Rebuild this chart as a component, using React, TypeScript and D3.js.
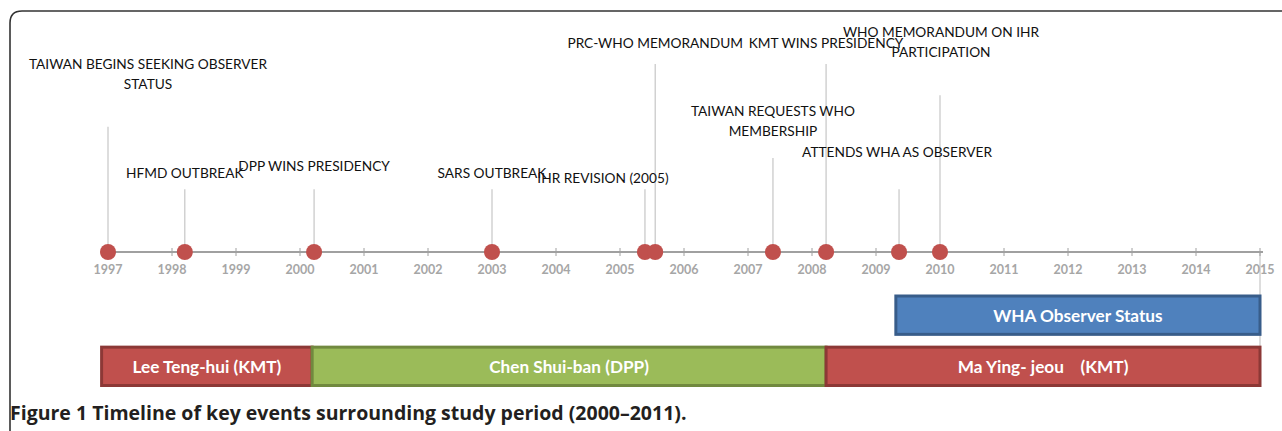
import React from 'react';
import * as d3 from 'd3';

const width = 1282;
const height = 431;

// axis years
const tickYears = d3.range(1997, 2016);

// events (fractional year), label lines and stem level
const eventDates = [1997.0, 1998.2, 2000.22, 2003.0, 2005.39, 2005.55, 2007.39, 2008.22, 2009.36, 2010.0];
const eventLabels = [
  ['TAIWAN BEGINS SEEKING OBSERVER', 'STATUS'],
  ['HFMD OUTBREAK'],
  ['DPP WINS PRESIDENCY'],
  ['SARS OUTBREAK'],
  ['IHR REVISION (2005)'],
  ['PRC-WHO MEMORANDUM'],
  ['TAIWAN REQUESTS WHO', 'MEMBERSHIP'],
  ['KMT WINS PRESIDENCY'],
  ['ATTENDS WHA AS OBSERVER'],
  ['WHO MEMORANDUM ON IHR', 'PARTICIPATION'],
];
const eventLevels = [2, 1, 1, 1, 1, 3, 1.5, 3, 1, 2.5];

// presidencies
const termNames = ['Lee Teng-hui (KMT)', 'Chen Shui-ban (DPP)', 'Ma Ying- jeou    (KMT)'];
const termStart = [1996.9, 2000.19, 2008.22];
const termEnd = [2000.19, 2008.22, 2015];

// observer status span
const statusName = 'WHA Observer Status';
const statusSpan = [2009.31, 2015];

const caption = 'Timeline of key events surrounding study period (2000\u20132011).';

// label nudges [dx, dy of last line from stem top]
const labelNudge = [[40, -44], [0, -17], [0, -24], [0, -17], [-42, -12], [0, -22], [0, -28], [0, -22], [-2, -38], [1, -44]];

const RED = '#C0504D';
const RED_DARK = '#8C3836';
const GREEN = '#9BBB59';
const GREEN_DARK = '#71893F';
const BLUE = '#4F81BD';
const BLUE_DARK = '#385D8A';

export default function App() {
  const axisY = 252;
  const x = d3.scaleLinear().domain([1997, 2015]).range([108, 1260]);
  const y = d3.scaleLinear().domain([0, 3]).range([axisY, 64]);
  const rows = d3.scaleBand<string>().domain(['status', 'term']).range([296, 385.5]).paddingInner(0.25);

  const labelFont = 'Lato, "Open Sans", sans-serif';
  const termColors = [[RED, RED_DARK], [GREEN, GREEN_DARK], [RED, RED_DARK]];

  return (
    <svg width={width} height={height} style={{ position: 'absolute', left: 0, top: 0, background: '#fff' }}>
      {/* frame */}
      <path d="M10,440 L10,23 Q10,11 22,11 L1290,11" fill="none" stroke="#333" strokeWidth={1.6} />

      {/* stems */}
      {eventDates.map((d, i) => (
        <line key={'s' + i} x1={x(d)} x2={x(d)} y1={axisY} y2={y(eventLevels[i])} stroke="#C6C6C6" strokeWidth={1.2} />
      ))}
      <line x1={x(2015)} x2={x(2015)} y1={axisY} y2={rows('term')} stroke="#C6C6C6" strokeWidth={1.2} />

      {/* axis */}
      <line x1={x(1996.9)} x2={x(2015) + 3} y1={axisY} y2={axisY} stroke="#A0A0A0" strokeWidth={2} />
      {tickYears.map((t) => (
        <g key={t} transform={`translate(${x(t)},${axisY})`}>
          <line y1={-4} y2={4} stroke="#A0A0A0" strokeWidth={1} />
          <text y={22} textAnchor="middle" fontFamily={labelFont} fontWeight={700} fontSize={12.5} fill="#A6A6A6">{t}</text>
        </g>
      ))}

      {/* event dots */}
      {eventDates.map((d, i) => (
        <circle key={'c' + i} cx={x(d)} cy={axisY} r={8} fill={RED} />
      ))}

      {/* event labels */}
      {eventDates.map((d, i) => {
        const lines = eventLabels[i];
        const [dx, dy] = labelNudge[i];
        const lastY = y(eventLevels[i]) + dy;
        return (
          <text key={'l' + i} textAnchor="middle" fontFamily={labelFont} fontSize={13.7} fill="#111" dominantBaseline="central">
            {lines.map((ln, j) => (
              <tspan key={j} x={x(d) + dx} y={lastY - (lines.length - 1 - j) * 20}>{ln}</tspan>
            ))}
          </text>
        );
      })}

      {/* observer status bar */}
      <rect x={x(statusSpan[0])} y={rows('status')} width={x(statusSpan[1]) - x(statusSpan[0])} height={rows.bandwidth()}
        fill={BLUE} stroke={BLUE_DARK} strokeWidth={3} />
      <text x={(x(statusSpan[0]) + x(statusSpan[1])) / 2} y={rows('status')! + rows.bandwidth() / 2} textAnchor="middle"
        dominantBaseline="central" fontFamily={labelFont} fontWeight={700} fontSize={17.2} fill="#fff">{statusName}</text>

      {/* presidency bars */}
      {termNames.map((name, i) => (
        <g key={name}>
          <rect x={x(termStart[i])} y={rows('term')} width={x(termEnd[i]) - x(termStart[i])} height={rows.bandwidth()}
            fill={termColors[i][0]} stroke={termColors[i][1]} strokeWidth={3} />
          <text x={(x(termStart[i]) + x(termEnd[i])) / 2} y={rows('term')! + rows.bandwidth() / 2} textAnchor="middle"
            dominantBaseline="central" fontFamily={labelFont} fontWeight={700} fontSize={17.2} fill="#fff"
            style={{ whiteSpace: 'pre' }}>{name}</text>
        </g>
      ))}

      {/* caption */}
      <text x={10} y={420} fontFamily='"Open Sans", sans-serif' fontSize={19.5} fill="#231F20" fontWeight={700}>
        Figure 1 {caption}
      </text>
    </svg>
  );
}
